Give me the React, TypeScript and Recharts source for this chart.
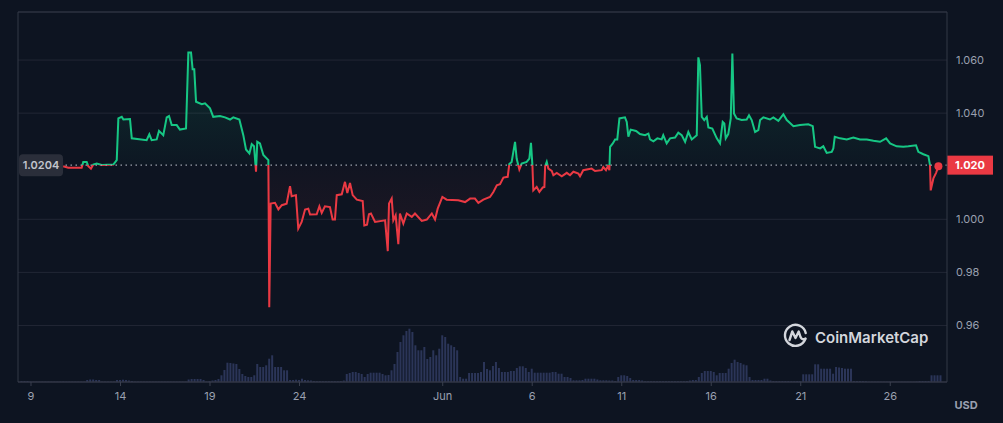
import React from 'react';
import {
  BarChart,
  Bar,
  ComposedChart,
  Area,
  XAxis,
  YAxis,
  CartesianGrid,
  ReferenceLine,
  ReferenceDot,
} from 'recharts';

// days since 9 May
const priceDays = [
  1.8, 2.08, 2.83, 2.92, 3.11, 3.2, 3.35, 3.48, 3.67, 3.95, 4.6, 4.79, 4.88, 5.07, 5.16, 5.53, 5.63, 6.46, 6.61, 6.74,
  7.02, 7.15, 7.39, 7.58, 7.71, 7.86, 8.14, 8.32, 8.66, 8.79, 8.94, 9.03, 9.12, 9.22, 9.54, 9.72, 10.0, 10.18, 10.56, 10.84,
  11.12, 11.3, 11.64, 11.86, 12.01, 12.2, 12.33, 12.46, 12.57, 12.64, 12.79, 12.98, 13.26, 13.31, 13.39, 13.63, 13.82, 14.01, 14.28, 14.47,
  14.56, 14.8, 14.93, 15.12, 15.31, 15.49, 15.59, 15.96, 16.11, 16.24, 16.42, 16.7, 16.85, 16.98, 17.08, 17.36, 17.54, 17.67, 17.82, 17.97,
  18.2, 18.53, 18.62, 18.77, 18.88, 18.99, 19.22, 19.78, 19.93, 20.0, 20.15, 20.24, 20.37, 20.52, 20.61, 20.8, 20.99, 21.27, 21.45, 21.83,
  22.11, 22.39, 22.57, 22.72, 22.98, 23.22, 23.87, 24.25, 24.53, 24.8, 24.99, 25.27, 25.64, 25.83, 26.02, 26.2, 26.39, 26.63, 26.72, 26.85,
  27.04, 27.13, 27.28, 27.41, 27.69, 27.84, 27.93, 28.01, 28.06, 28.25, 28.4, 28.59, 28.68, 28.72, 28.81, 28.9, 29.09, 29.18, 29.37, 29.65,
  29.93, 30.11, 30.3, 30.58, 30.67, 30.85, 31.32, 31.51, 31.88, 31.97, 32.12, 32.22, 32.31, 32.35, 32.5, 32.63, 32.75, 32.87, 33.18, 33.28,
  33.37, 33.5, 33.8, 34.02, 34.3, 34.49, 34.58, 34.77, 34.99, 35.23, 35.32, 35.51, 35.7, 35.98, 36.16, 36.35, 36.54, 36.72, 36.91, 37.19,
  37.28, 37.37, 37.47, 37.61, 37.75, 37.84, 38.06, 38.31, 38.49, 38.64, 38.73, 38.81, 38.95, 39.09, 39.18, 39.27, 39.42, 39.7, 39.98, 40.11,
  40.26, 40.45, 40.63, 40.73, 40.91, 41.28, 41.47, 41.75, 42.03, 42.22, 42.4, 42.59, 42.96, 43.42, 43.67, 43.8, 44.08, 44.26, 44.45, 44.73,
  44.82, 44.9, 45.2, 45.57, 45.94, 46.31, 46.69, 47.06, 47.43, 47.77, 47.99, 48.36, 48.73, 49.01, 49.44, 49.57, 49.85, 50.13, 50.22, 50.26,
  50.41, 50.56, 50.69,
];

const prices = [
  1.02, 1.0194, 1.0194, 1.0216, 1.0216, 1.02, 1.0191, 1.0206, 1.021, 1.0205, 1.0206, 1.0223, 1.038, 1.0386, 1.0376, 1.0378, 1.0305, 1.0298, 1.032, 1.0298,
  1.0301, 1.0333, 1.0317, 1.0384, 1.0389, 1.0355, 1.0355, 1.0338, 1.0342, 1.0628, 1.0628, 1.0565, 1.0565, 1.0443, 1.0434, 1.0437, 1.0418, 1.0386, 1.0389, 1.0384,
  1.0376, 1.0384, 1.0376, 1.0317, 1.0263, 1.0248, 1.0283, 1.0275, 1.0179, 1.0292, 1.0286, 1.0242, 1.0223, 0.9669, 1.0059, 1.0062, 1.0037, 1.0053, 1.0059, 1.0125,
  1.0087, 1.0091, 0.9965, 0.999, 1.0037, 1.004, 1.0018, 1.0019, 1.0049, 1.0024, 1.0049, 1.0046, 0.9999, 0.9999, 1.0091, 1.0094, 1.0141, 1.0099, 1.0137, 1.0091,
  1.0074, 1.0069, 0.9977, 0.998, 1.0019, 1.0022, 0.999, 0.9996, 0.988, 1.0059, 1.0078, 0.9996, 1.0015, 0.9906, 1.0022, 0.9984, 1.0022, 1.0009, 1.0022, 0.9994,
  0.9999, 1.0022, 0.9999, 1.004, 1.0084, 1.0074, 1.0072, 1.0065, 1.0078, 1.0078, 1.0062, 1.0074, 1.0084, 1.0103, 1.0128, 1.0132, 1.0157, 1.016, 1.0208, 1.0216,
  1.0292, 1.0229, 1.0188, 1.021, 1.0216, 1.0229, 1.0288, 1.0204, 1.0109, 1.0122, 1.0103, 1.012, 1.0122, 1.02, 1.0216, 1.0191, 1.0182, 1.0166, 1.0175, 1.0162,
  1.0175, 1.0166, 1.0179, 1.0172, 1.0162, 1.0185, 1.0191, 1.0182, 1.0185, 1.0197, 1.0185, 1.02, 1.0185, 1.0273, 1.0286, 1.0301, 1.0301, 1.038, 1.0384, 1.0367,
  1.0311, 1.0338, 1.0333, 1.0321, 1.0317, 1.0323, 1.0301, 1.0294, 1.0305, 1.0301, 1.0317, 1.0286, 1.0305, 1.0308, 1.0326, 1.0317, 1.0292, 1.0329, 1.0301, 1.0317,
  1.061, 1.0581, 1.0386, 1.0374, 1.0386, 1.0346, 1.0342, 1.0305, 1.0286, 1.0367, 1.0361, 1.0305, 1.0321, 1.038, 1.0625, 1.0399, 1.038, 1.0374, 1.0376, 1.0392,
  1.0374, 1.0329, 1.0336, 1.0374, 1.0384, 1.0376, 1.0384, 1.0371, 1.0396, 1.0374, 1.0363, 1.0351, 1.0355, 1.0358, 1.0351, 1.0273, 1.0267, 1.0275, 1.025, 1.0254,
  1.0267, 1.0311, 1.0305, 1.0301, 1.0308, 1.0301, 1.0301, 1.0296, 1.0292, 1.0305, 1.0286, 1.0275, 1.0273, 1.0275, 1.0279, 1.0254, 1.0245, 1.0238, 1.0204, 1.0109,
  1.0154, 1.0175, 1.02,
];

// 4-hourly volume, first slot at day -0.5
const volumes = [
  1, 1, 1, 0.5, 0.4, 0.4, 0.4, 0.4, 0.4, 0.4, 0.4, 0.4, 0.4, 0.4, 0.4, 0.4, 0.4, 0.4, 0.4, 0.4, 0.4, 0.4,
  2, 2.5, 2.5, 2, 2, 0.4, 0.4, 0.4, 0.4, 0.4, 2, 2, 2.3, 2, 1.5, 1,
  0.4, 0.4, 0.4, 0.4, 0.4, 0.4, 0.4, 0.4, 0.4, 0.4, 0.4, 0.4, 0.4, 0.4, 0.4, 0.4, 0.4, 0.4,
  2.5, 3, 3, 3, 3, 2, 0.5, 1, 1.5, 2, 3, 6.7,
  12, 19.3, 19, 18.5, 18, 13, 8, 6, 5, 5, 6.7, 18, 15, 15, 16.7, 23.3, 26.7, 15, 15, 15, 11.7, 11.7, 2, 2, 2.3, 2, 3.3, 2, 1.7, 1.5, 1,
  0.8, 0.8, 0.8, 0.8, 0.8, 0.8, 0.8, 0.8,
  1, 1.5, 8, 9, 10, 10, 9, 8, 5, 8, 9.3, 9.3, 9.3, 9.3, 8, 6.7, 7, 11.7, 18, 30, 40, 46.7, 51, 53.3, 50, 36.7, 31.7, 31.7, 35, 23,
  25, 31.7, 26.7, 33.3, 46.7, 45, 38.3, 36.7, 35, 31.7,
  5, 3.3, 3.3, 9, 9, 9, 9, 10, 20, 13, 11.7, 16, 20, 14, 10, 10, 10, 11, 11, 14, 15.7, 15.7, 14, 10, 13.3, 9.3, 9.3, 9.3, 9.3, 9.3,
  9.3, 10, 10, 8.3, 8.3, 5, 5, 4, 1.7, 1.7, 1.7, 2, 3.3, 3.3, 3.3, 3.3, 2.5, 1.7, 1.7, 1.7, 1.5, 1.5, 1, 5, 6.7, 6.7, 6, 4, 2, 2,
  2, 1.5,
  0.8, 0.8, 0.8, 0.8, 0.8, 0.8, 0.8, 0.8, 0.8, 0.8, 0.8, 0.8, 0.8, 0.8,
  1, 1.5, 2, 2, 5, 9, 11, 11, 11, 10, 6.7, 9, 9, 9, 13.3, 19, 22.3, 20, 19, 17.5, 16.7, 5, 2, 2, 2, 2, 3.3, 3.3, 1.5, 1,
  1, 1, 1, 1, 1, 0.8, 0.8, 1, 1,
  7.7, 7.7, 7.7, 7.7, 17.7, 17.7, 13.3, 13.3, 13.3, 13.3, 8.3, 15, 14.5, 14, 13.3, 13.3, 13.3, 1, 1, 1, 1, 0.8,
  0.3, 0.3, 0.3, 0.3, 0.3, 0.3, 0.3, 0.3, 0.3, 0.3, 0.3, 0.3, 0.3, 0.3, 0.3, 0.3, 0.5,
  1, 1, 1, 1, 6.7, 6.7, 6.7, 6.7,
];

const xTickDays = [0, 5, 10, 15, 23, 28, 33, 38, 43, 48];
const xTickLabels = ['9', '14', '19', '24', 'Jun', '6', '11', '16', '21', '26'];
const yTicks = [0.96, 0.98, 1.0, 1.04, 1.06];

const BASE = 1.0204;
const X_DOMAIN: [number, number] = [-0.726, 51.17];
const Y_DOMAIN: [number, number] = [0.9387, 1.0781];

const GREEN = '#16c784';
const RED = '#ea3943';
const BG = '#0d1421';
const GRID = '#222735';
const BORDER = '#323847';
const TEXT = '#9aa0b0';

const priceData = priceDays.map((day, i) => ({ day, price: prices[i] }));
const volumeData = volumes.map((vol, i) => ({ day: -0.5 + i / 6, vol }));

const maxP = Math.max(...prices);
const minP = Math.min(...prices);
const split = (maxP - BASE) / (maxP - minP);
const lastDay = priceDays[priceDays.length - 1];
const lastPrice = prices[prices.length - 1];

function BaseBadges(props: any) {
  const vb = props.viewBox;
  if (!vb) return null;
  const { x, y, width } = vb;
  const right = x + width;
  return (
    <g>
      <rect x={x + 1} y={y - 11} width={44} height={22} rx={4} fill="#2a2e3a" />
      <text x={x + 23} y={y + 0.5} dy="0.35em" textAnchor="middle" fill="#c2c5cd" fontSize={11} fontWeight={600}>
        {BASE.toFixed(4)}
      </text>
      <rect x={right} y={y - 9.5} width={46} height={19} fill={RED} />
      <text x={right + 23} y={y} dy="0.35em" textAnchor="middle" fill="#ffffff" fontSize={11} fontWeight={700}>
        {lastPrice.toFixed(3)}
      </text>
    </g>
  );
}

export default function App() {
  const xLabel = (v: number) => xTickLabels[xTickDays.indexOf(v)] ?? '';
  const yLabel = (v: number) => (v >= 1 ? v.toFixed(3) : v.toFixed(2));

  return (
    <div
      style={{
        position: 'fixed',
        left: 0,
        top: 0,
        width: 1003,
        height: 423,
        background: BG,
        fontFamily: 'Inter, sans-serif',
        overflow: 'hidden',
      }}
    >
      <div style={{ position: 'absolute', left: 0, top: 0 }}>
        <BarChart width={1003} height={423} data={volumeData} margin={{ top: 12, right: 56, bottom: 41, left: 18 }}>
          <XAxis dataKey="day" type="number" domain={X_DOMAIN} allowDataOverflow hide />
          <YAxis domain={[0, 370]} hide />
          <Bar dataKey="vol" fill="#2b3558" barSize={2} isAnimationActive={false} />
        </BarChart>
      </div>

      <div style={{ position: 'absolute', left: 0, top: 0 }}>
        <ComposedChart width={1003} height={423} data={priceData} margin={{ top: 12, right: 0, bottom: 0, left: 18 }}>
          <defs>
            <linearGradient id="priceStroke" x1="0" y1="0" x2="0" y2="1">
              <stop offset={0} stopColor={GREEN} />
              <stop offset={split} stopColor={GREEN} />
              <stop offset={split} stopColor={RED} />
              <stop offset={1} stopColor={RED} />
            </linearGradient>
            <linearGradient id="priceFill" x1="0" y1="0" x2="0" y2="1">
              <stop offset={0} stopColor={GREEN} stopOpacity={0.24} />
              <stop offset={split} stopColor={GREEN} stopOpacity={0.03} />
              <stop offset={split} stopColor={RED} stopOpacity={0.03} />
              <stop offset={1} stopColor={RED} stopOpacity={0.22} />
            </linearGradient>
          </defs>
          <CartesianGrid vertical={false} stroke={GRID} />
          <XAxis
            dataKey="day"
            type="number"
            domain={X_DOMAIN}
            allowDataOverflow
            ticks={xTickDays}
            tickFormatter={xLabel}
            height={41}
            stroke="#3a3f4e"
            tickSize={4}
            tickMargin={6}
            tick={{ fill: TEXT, fontSize: 11 }}
          />
          <YAxis
            orientation="right"
            domain={Y_DOMAIN}
            allowDataOverflow
            ticks={yTicks}
            tickFormatter={yLabel}
            width={56}
            stroke={BORDER}
            tickLine={false}
            tickSize={0}
            tickMargin={9}
            tick={{ fill: TEXT, fontSize: 11 }}
          />
          <ReferenceLine y={Y_DOMAIN[1]} stroke={BORDER} />
          <ReferenceLine x={X_DOMAIN[0]} stroke={BORDER} />
          <Area
            type="linear"
            dataKey="price"
            baseValue={BASE}
            stroke="url(#priceStroke)"
            strokeWidth={2}
            fill="url(#priceFill)"
            dot={false}
            activeDot={false}
            isAnimationActive={false}
          />
          <ReferenceLine
            y={BASE}
            stroke="#9ca1ad"
            strokeWidth={1.2}
            strokeDasharray="1.5 3.5"
            label={(p: any) => <BaseBadges {...p} />}
          />
          <ReferenceDot x={lastDay} y={lastPrice} r={4} fill={RED} stroke="none" />
        </ComposedChart>
      </div>

      <svg width={1003} height={423} style={{ position: 'absolute', left: 0, top: 0, pointerEvents: 'none' }}>
        <g transform="translate(795.5 335.5)" fill="none" stroke="#d3d6dc" strokeWidth={2.4} strokeLinecap="round" strokeLinejoin="round">
          <path d="M 9.8 3.5 A 10.5 10.5 0 1 1 10.2 -2.5" />
          <path d="M -6 4.5 L -3.2 -4 L 0 2.5 L 3.2 -4 L 5 1.5 Q 6.5 5 10 3" />
        </g>
        <text x={815} y={337} dominantBaseline="central" fill="#d3d6dc" fontSize={15} fontWeight={600}>
          CoinMarketCap
        </text>
        <text x={966} y={405} dominantBaseline="central" textAnchor="middle" fill={TEXT} fontSize={11} fontWeight={700}>
          USD
        </text>
      </svg>
    </div>
  );
}
